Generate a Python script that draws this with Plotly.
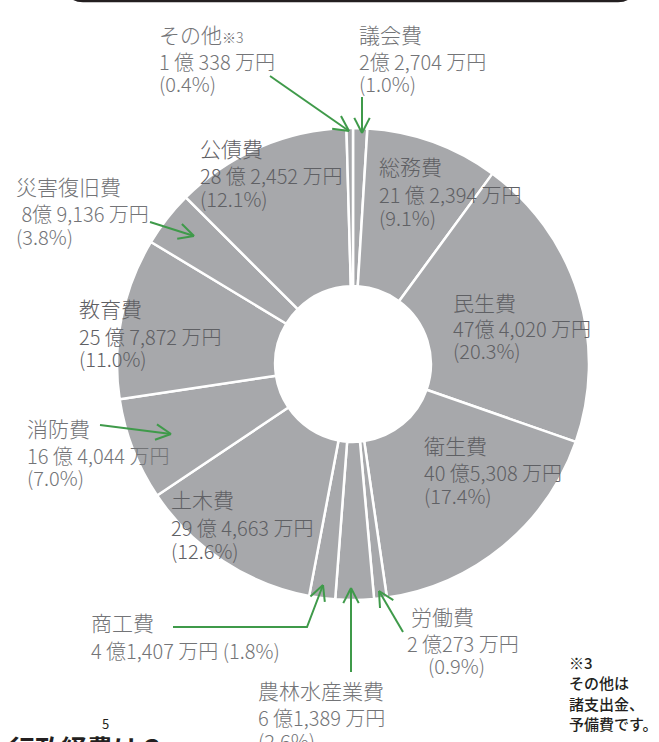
import math
import plotly.graph_objects as go

# ---------------- data ----------------
categories = ["議会費", "総務費", "民生費", "衛生費", "労働費", "農林水産業費",
              "商工費", "土木費", "消防費", "教育費", "災害復旧費", "公債費", "その他"]
values_man_yen = [22704, 212394, 474020, 405308, 20273, 61389,
                  41407, 294663, 164044, 257872, 89136, 282452, 10338]
amount_labels = ["2億 2,704 万円", "21 億 2,394 万円", "47億 4,020 万円", "40 億5,308 万円",
                 "2 億273 万円", "6 億1,389 万円", "4 億1,407 万円", "29 億 4,663 万円",
                 "16 億 4,044 万円", "25 億 7,872 万円", " 8億 9,136 万円", "28 億 2,452 万円",
                 "1 億 338 万円"]
percent_labels = ["(1.0%)", "(9.1%)", "(20.3%)", "(17.4%)", "(0.9%)", "(2.6%)", "(1.8%)",
                  "(12.6%)", "(7.0%)", "(11.0%)", "(3.8%)", "(12.1%)", "(0.4%)"]
footnote_lines = ["※3", "その他は", "諸支出金、", "予備費です。"]

# ---------------- style / layout ----------------
W, H = 659, 742
CX, CY, R = 353, 364, 236
HOLE = 0.33
SLICE = "#a7a8ab"
TXT_OUT = "#737477"
TXT_IN = "#5f6064"
GREEN = "#3f9a4a"
FONT = "Noto Sans CJK JP"

# label placement: x, y of lines, inside slice?
label_pos = {
    "その他":     dict(x=158, ys=[34, 61, 83], inside=False),
    "議会費":     dict(x=358, ys=[34, 61, 83], inside=False),
    "総務費":     dict(x=378, ys=[166, 194, 217], inside=True),
    "民生費":     dict(x=452, ys=[302, 328, 350], inside=True),
    "衛生費":     dict(x=423, ys=[445, 472, 495], inside=True),
    "労働費":     dict(x=410, ys=[616, 643, 665], inside=False, xs=[410, 406, 427]),
    "農林水産業費": dict(x=257, ys=[690, 717, 740], inside=False),
    "商工費":     dict(x=90, ys=[622, 650], inside=False, oneline=True),
    "土木費":     dict(x=170, ys=[499, 527, 550], inside=True),
    "消防費":     dict(x=26, ys=[428, 455, 477], inside=False),
    "教育費":     dict(x=78, ys=[308, 336, 358], inside=True),
    "災害復旧費":  dict(x=15, ys=[186, 213, 236], inside=False, xs=[15, 16, 15]),
    "公債費":     dict(x=199, ys=[148, 175, 198], inside=True),
}

arrows = [
    [(270, 76), (349, 131)],
    [(362, 97), (362, 133)],
    [(150, 222), (194, 236)],
    [(100, 425), (171, 434)],
    [(173, 627), (307, 627), (323, 585)],
    [(351, 672), (351, 588)],
    [(403, 632), (379, 591)],
]

fig = go.Figure()
fig.add_trace(go.Pie(
    labels=categories, values=values_man_yen,
    sort=False, direction="clockwise", rotation=0,
    hole=HOLE, textinfo="none", hoverinfo="skip",
    marker=dict(colors=[SLICE] * len(categories), line=dict(color="white", width=2.5)),
    domain=dict(x=[(CX - R) / W, (CX + R) / W], y=[(H - CY - R) / H, (H - CY + R) / H]),
    showlegend=False,
))

annotations = []
def add_text(x, y, text, size=20, color=TXT_OUT, weight=300, yref="y"):
    annotations.append(dict(x=x, y=y, xref="x", yref=yref, text=text, showarrow=False,
                            xanchor="left", yanchor="middle", borderpad=0,
                            font=dict(family=FONT, size=size, color=color, weight=weight)))

for i, cat in enumerate(categories):
    p = label_pos[cat]
    col = TXT_IN if p["inside"] else TXT_OUT
    name = cat + ('<span style="font-size:14px">※3</span>' if cat == "その他" else "")
    if p.get("oneline"):
        lines = [name, amount_labels[i] + " " + percent_labels[i]]
    else:
        lines = [name, amount_labels[i], percent_labels[i]]
    xs = p.get("xs", [p["x"]] * len(lines))
    for j, (ln, y) in enumerate(zip(lines, p["ys"])):
        add_text(xs[j], y, ln, size=21 if j == 0 else 20, color=col)

for j, ln in enumerate(footnote_lines):
    add_text(568, 662 + j * 20.5, ln, size=15, color="#231f20", weight=500)

add_text(101, 723, "5", size=13, color="#231f20", weight=400)
add_text(8, (H - 747) / H, "行政経費は？", size=26, color="#231f20", weight=700, yref="paper")

shapes = []
for pts in arrows:
    path = "M " + " L ".join(f"{x} {y}" for x, y in pts)
    shapes.append(dict(type="path", path=path, xref="x", yref="y",
                       line=dict(color=GREEN, width=2)))
    (x0, y0), (x1, y1) = pts[-2], pts[-1]
    ang = math.atan2(y1 - y0, x1 - x0)
    for s in (-1, 1):
        a = ang + math.pi + s * math.radians(27)
        hx, hy = x1 + 17 * math.cos(a), y1 + 17 * math.sin(a)
        shapes.append(dict(type="line", x0=x1, y0=y1, x1=hx, y1=hy, xref="x", yref="y",
                           line=dict(color=GREEN, width=2)))

# top frame edge
shapes.append(dict(type="path", path="M 68 -14 Q 68 1 83 1 L 618 1 Q 633 1 633 -14",
                   xref="x", yref="y", line=dict(color="#231f20", width=2.5)))

fig.update_layout(
    width=W, height=H, margin=dict(l=0, r=0, t=0, b=0),
    paper_bgcolor="white", plot_bgcolor="rgba(0,0,0,0)",
    xaxis=dict(range=[0, W], visible=False, fixedrange=True),
    yaxis=dict(range=[H, 0], visible=False, fixedrange=True),
    annotations=annotations, shapes=shapes, showlegend=False,
)

fig.write_html("out.html", config={"displayModeBar": False},
               post_script="document.body.style.margin='0';document.body.style.overflow='hidden';")
